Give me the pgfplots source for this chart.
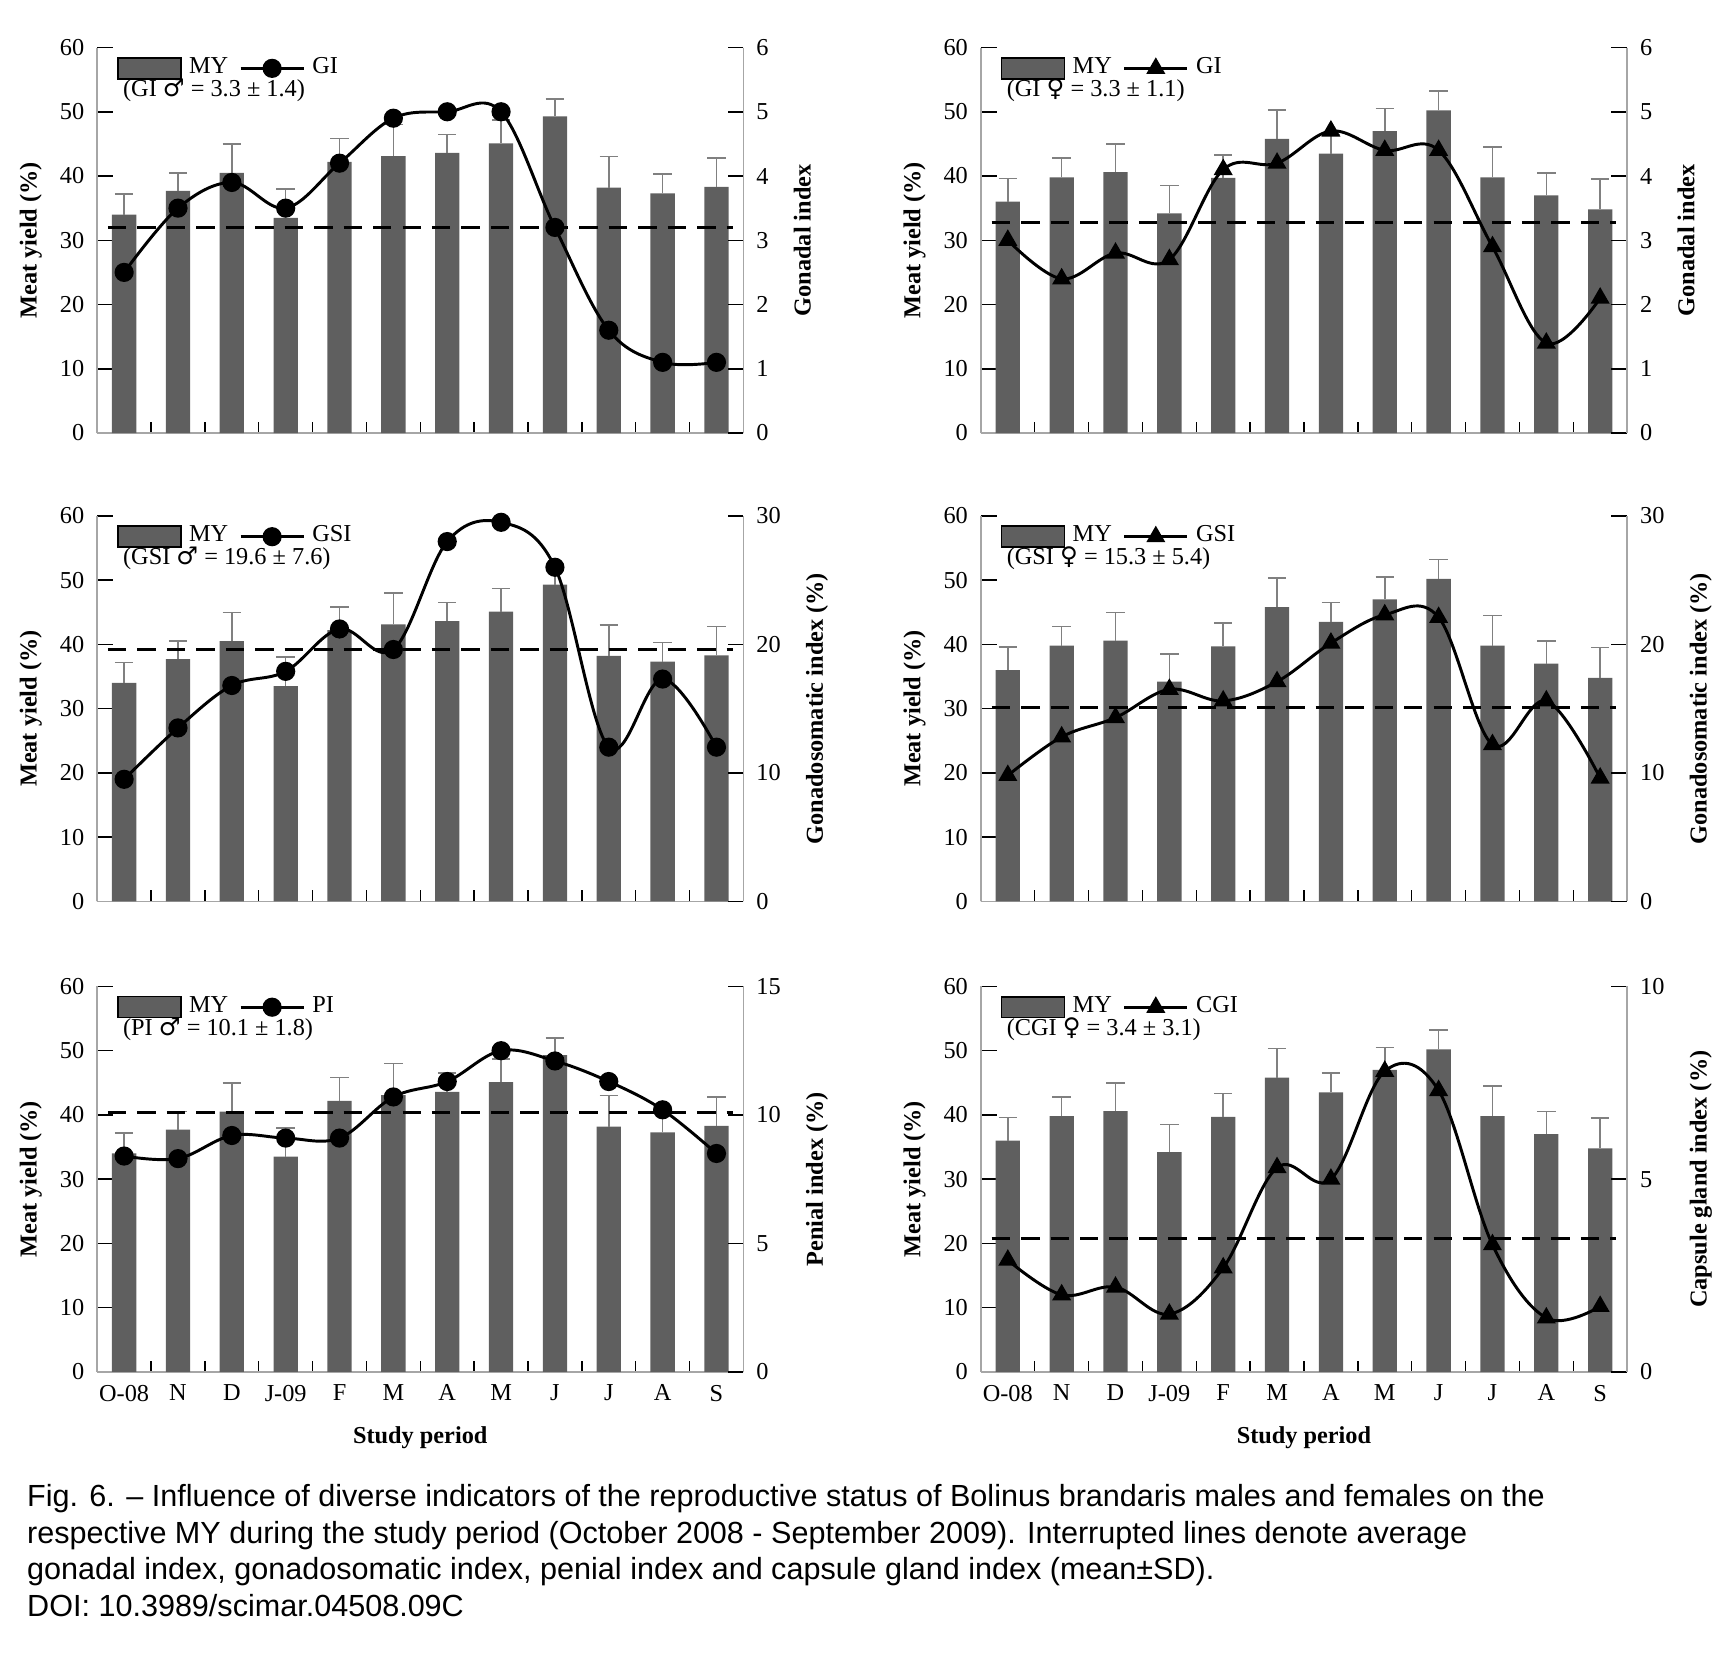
\documentclass[border=0pt]{standalone}
\usepackage{pgfplots}
\pgfplotsset{compat=1.18}
\usepackage{pgfplotstable}
\usepackage{fontspec}
\setmainfont{Liberation Serif}
\newfontfamily\capfont{Liberation Sans}
\newfontfamily\sym{DejaVu Sans}
\definecolor{barcol}{HTML}{5F5F5F}
\pgfplotstableread{
x my top
0 34.0 37.2
1 37.7 40.5
2 40.5 45.0
3 33.5 38.0
4 42.2 45.8
5 43.1 48.0
6 43.6 46.5
7 45.1 48.7
8 49.3 52.0
9 38.2 43.0
10 37.3 40.3
11 38.3 42.8
}\males
\pgfplotstableread{
x my top
0 36.0 39.6
1 39.8 42.8
2 40.6 45.0
3 34.2 38.5
4 39.7 43.3
5 45.8 50.3
6 43.5 46.5
7 47.0 50.5
8 50.2 53.2
9 39.8 44.5
10 37.0 40.5
11 34.8 39.5
}\females
\newcommand\fs{\fontsize{6.6}{7.5}\selectfont}
\pgfplotsset{
 base/.style={scale only axis, width=175.5pt, height=104.7pt, xmin=-0.5, xmax=11.5,
   tick label style={font=\fs}, label style={font=\fs\bfseries},
   /pgf/number format/assume math mode=true, tick style={black, thin}, axis line style={gray!70}},
 leftax/.style={base, ymin=0, ymax=60, ytick={0,10,...,60}, axis y line*=left, axis x line*=bottom,
   xtick={0,...,11}, xticklabels={}, major x tick style={draw=none},
   minor xtick={-0.5,0.5,...,11.5}, minor tick length=3pt, ylabel={Meat yield (\%)}, ylabel shift=-2pt},
 rightax/.style={base, ymin=0, axis y line*=right, axis x line=none,
   legend style={at={(rel axis cs:0.03,0.995)}, anchor=north west, draw=none, fill=none, font=\fs,
    legend columns=2, inner sep=0pt, /tikz/every even column/.style={column sep=1pt}}},
 bars/.style={ybar, bar width=6.6pt, fill=barcol, draw=none,
   error bars/.cd, y dir=plus, y explicit, error bar style={gray, thin}, error mark options={rotate=90, mark size=2.5pt, gray}},
 ln/.style={black, thick, smooth, tension=0.6, mark size=2.2pt},
 mn/.style={black, thick, dashed, dash pattern=on 5pt off 3pt},
}
\newcommand\months{xticklabels={O-08,N,D,J-09,F,M,A,M,J,J,A,S}, xlabel={Study period}}
\begin{document}
\begin{tikzpicture}
\path (0,0) rectangle (470.4pt,-456pt);
% ---------- Row 1 left
\begin{axis}[leftax, at={(26.4pt,-117.6pt)}, anchor=south west]
\addplot[bars] table[x=x,y=my,y error expr=\thisrow{top}-\thisrow{my}]{\males};
\node[font=\fs\bfseries, anchor=south west, inner sep=1pt] at (rel axis cs:0.03,1) {Males};
\node[font=\fs, anchor=west] at (rel axis cs:0.02,0.89) {(GI {\sym ♂} = 3.3 ± 1.4)};
\end{axis}
\begin{axis}[rightax, at={(26.4pt,-117.6pt)}, anchor=south west, ymax=6, ytick={0,...,6}, ylabel={Gonadal index}]
\addlegendimage{area legend, fill=barcol, draw=none}\addlegendentry{MY}
\addplot[ln, mark=*] coordinates {(0,2.5)(1,3.5)(2,3.9)(3,3.5)(4,4.2)(5,4.9)(6,5.0)(7,5.0)(8,3.2)(9,1.6)(10,1.1)(11,1.1)};
\addlegendentry{GI}
\addplot[mn, forget plot] coordinates {(-0.3,3.2)(11.3,3.2)};
\end{axis}
% ---------- Row 1 right
\begin{axis}[leftax, at={(266.4pt,-117.6pt)}, anchor=south west]
\addplot[bars] table[x=x,y=my,y error expr=\thisrow{top}-\thisrow{my}]{\females};
\node[font=\fs\bfseries, anchor=south west, inner sep=1pt] at (rel axis cs:0.02,1) {Females};
\node[font=\fs, anchor=west] at (rel axis cs:0.02,0.89) {(GI {\sym ♀} = 3.3 ± 1.1)};
\end{axis}
\begin{axis}[rightax, at={(266.4pt,-117.6pt)}, anchor=south west, ymax=6, ytick={0,...,6}, ylabel={Gonadal index}]
\addlegendimage{area legend, fill=barcol, draw=none}\addlegendentry{MY}
\addplot[ln, mark=triangle*] coordinates {(0,3.0)(1,2.4)(2,2.8)(3,2.7)(4,4.1)(5,4.2)(6,4.7)(7,4.4)(8,4.4)(9,2.9)(10,1.4)(11,2.1)};
\addlegendentry{GI}
\addplot[mn, forget plot] coordinates {(-0.3,3.27)(11.3,3.27)};
\end{axis}
% ---------- Row 2 left
\begin{axis}[leftax, at={(26.4pt,-244.8pt)}, anchor=south west]
\addplot[bars] table[x=x,y=my,y error expr=\thisrow{top}-\thisrow{my}]{\males};
\node[font=\fs\bfseries, anchor=south west, inner sep=1pt] at (rel axis cs:0.03,1) {Males};
\node[font=\fs, anchor=west] at (rel axis cs:0.02,0.89) {(GSI {\sym ♂} = 19.6 ± 7.6)};
\end{axis}
\begin{axis}[rightax, at={(26.4pt,-244.8pt)}, anchor=south west, ymax=30, ytick={0,10,20,30}, ylabel={Gonadosomatic index (\%)}]
\addlegendimage{area legend, fill=barcol, draw=none}\addlegendentry{MY}
\addplot[ln, mark=*] coordinates {(0,9.5)(1,13.5)(2,16.8)(3,17.9)(4,21.2)(5,19.6)(6,28.0)(7,29.5)(8,26.0)(9,12.0)(10,17.3)(11,12.0)};
\addlegendentry{GSI}
\addplot[mn, forget plot] coordinates {(-0.3,19.6)(11.3,19.6)};
\end{axis}
% ---------- Row 2 right
\begin{axis}[leftax, at={(266.4pt,-244.8pt)}, anchor=south west]
\addplot[bars] table[x=x,y=my,y error expr=\thisrow{top}-\thisrow{my}]{\females};
\node[font=\fs\bfseries, anchor=south west, inner sep=1pt] at (rel axis cs:0.03,1) {Females};
\node[font=\fs, anchor=west] at (rel axis cs:0.02,0.89) {(GSI {\sym ♀} = 15.3 ± 5.4)};
\end{axis}
\begin{axis}[rightax, at={(266.4pt,-244.8pt)}, anchor=south west, ymax=30, ytick={0,10,20,30}, ylabel={Gonadosomatic index (\%)}]
\addlegendimage{area legend, fill=barcol, draw=none}\addlegendentry{MY}
\addplot[ln, mark=triangle*] coordinates {(0,9.8)(1,12.8)(2,14.3)(3,16.5)(4,15.6)(5,17.1)(6,20.1)(7,22.3)(8,22.1)(9,12.2)(10,15.6)(11,9.6)};
\addlegendentry{GSI}
\addplot[mn, forget plot] coordinates {(-0.3,15.1)(11.3,15.1)};
\end{axis}
% ---------- Row 3 left
\begin{axis}[leftax, \months, at={(26.4pt,-372.6pt)}, anchor=south west]
\addplot[bars] table[x=x,y=my,y error expr=\thisrow{top}-\thisrow{my}]{\males};
\node[font=\fs\bfseries, anchor=south west, inner sep=1pt] at (rel axis cs:0.03,1) {Males};
\node[font=\fs, anchor=west] at (rel axis cs:0.02,0.89) {(PI {\sym ♂} = 10.1 ± 1.8)};
\end{axis}
\begin{axis}[rightax, at={(26.4pt,-372.6pt)}, anchor=south west, ymax=15, ytick={0,5,10,15}, ylabel={Penial index (\%)}]
\addlegendimage{area legend, fill=barcol, draw=none}\addlegendentry{MY}
\addplot[ln, mark=*] coordinates {(0,8.4)(1,8.3)(2,9.2)(3,9.1)(4,9.1)(5,10.7)(6,11.3)(7,12.5)(8,12.1)(9,11.3)(10,10.2)(11,8.5)};
\addlegendentry{PI}
\addplot[mn, forget plot] coordinates {(-0.3,10.1)(11.3,10.1)};
\end{axis}
% ---------- Row 3 right
\begin{axis}[leftax, \months, at={(266.4pt,-372.6pt)}, anchor=south west]
\addplot[bars] table[x=x,y=my,y error expr=\thisrow{top}-\thisrow{my}]{\females};
\node[font=\fs\bfseries, anchor=south west, inner sep=1pt] at (rel axis cs:0.03,1) {Females};
\node[font=\fs, anchor=west] at (rel axis cs:0.02,0.89) {(CGI {\sym ♀} = 3.4 ± 3.1)};
\end{axis}
\begin{axis}[rightax, at={(266.4pt,-372.6pt)}, anchor=south west, ymax=10, ytick={0,5,10}, ylabel={Capsule gland index (\%)}]
\addlegendimage{area legend, fill=barcol, draw=none}\addlegendentry{MY}
\addplot[ln, mark=triangle*] coordinates {(0,2.9)(1,2.0)(2,2.2)(3,1.5)(4,2.7)(5,5.3)(6,5.0)(7,7.8)(8,7.3)(9,3.3)(10,1.4)(11,1.7)};
\addlegendentry{CGI}
\addplot[mn, forget plot] coordinates {(-0.3,3.45)(11.3,3.45)};
\end{axis}
% ---------- caption
\node[anchor=north west, inner sep=0pt, align=left, font=\capfont\fontsize{8.3}{9.9}\selectfont] at (7.2pt,-403pt)
{Fig. 6. – Influence of diverse indicators of the reproductive status of Bolinus brandaris males and females on the\\
respective MY during the study period (October 2008 - September 2009). Interrupted lines denote average\\
gonadal index, gonadosomatic index, penial index and capsule gland index (mean±SD).\\
DOI: 10.3989/scimar.04508.09C};
\end{tikzpicture}
\end{document}
